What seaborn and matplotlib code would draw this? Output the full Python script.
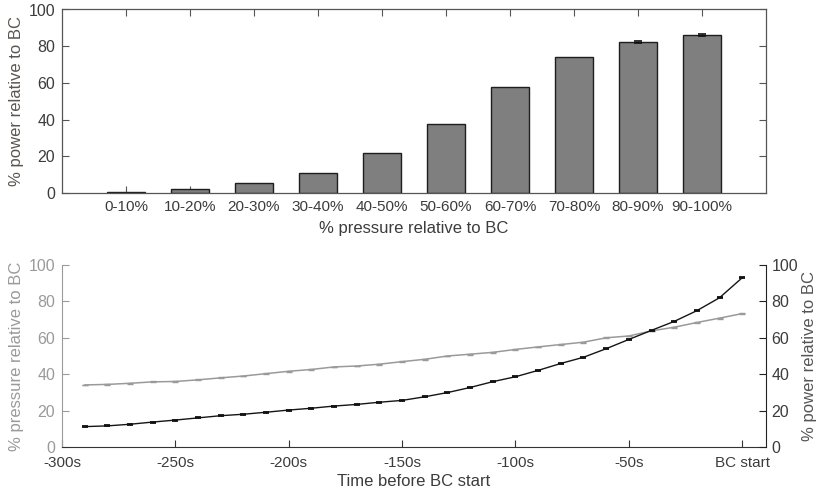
import matplotlib
matplotlib.use("Agg")
import matplotlib.pyplot as plt
import seaborn as sns
import pandas as pd
import numpy as np

# ---- data ----
bins = ["0-10%", "10-20%", "20-30%", "30-40%", "40-50%",
        "50-60%", "60-70%", "70-80%", "80-90%", "90-100%"]
power_by_bin = [0.5, 2.0, 5.3, 11.0, 22.0, 37.6, 57.5, 74.0, 82.2, 86.2]
power_by_bin_err = [0.0, 0.0, 0.0, 0.0, 0.0, 0.0, 0.0, 0.0, 0.4, 0.4]

time_s = [-290, -280, -270, -260, -250, -240, -230, -220, -210, -200,
          -190, -180, -170, -160, -150, -140, -130, -120, -110, -100,
          -90, -80, -70, -60, -50, -40, -30, -20, -10, 0]
pressure = [34.1, 34.4, 35.0, 35.8, 36.0, 36.9, 38.0, 39.0, 40.3, 41.6,
            42.6, 44.0, 44.5, 45.5, 46.9, 48.2, 50.0, 51.0, 52.0, 53.6,
            55.0, 56.3, 57.6, 60.0, 61.0, 63.8, 65.8, 68.4, 70.8, 73.3]
pressure_err = [0.2] * 30
power = [11.2, 11.6, 12.5, 13.7, 14.8, 16.0, 17.2, 18.0, 19.1, 20.3,
         21.3, 22.5, 23.4, 24.6, 25.6, 27.6, 29.9, 32.7, 35.9, 38.6,
         42.1, 45.9, 49.3, 54.0, 59.1, 64.1, 69.0, 74.9, 82.0, 93.0]
power_err = [0.3] * 30

xtick_vals = [-300, -250, -200, -150, -100, -50, 0]
xtick_labels = ["-300s", "-250s", "-200s", "-150s", "-100s", "-50s", "BC start"]
ytick_vals = [0, 20, 40, 60, 80, 100]

# ---- style ----
sns.set_style("white")
plt.rcParams["font.family"] = ["Liberation Sans", "DejaVu Sans"]
plt.rcParams["font.size"] = 12
plt.rcParams["xtick.labelsize"] = 11
plt.rcParams["ytick.labelsize"] = 11.5

dark = "#3c3c3c"
light = "#9a9a9a"

fig = plt.figure(figsize=(8.19, 4.98), dpi=100)
ax1 = fig.add_axes([62/819, 1-193/498, (766-62)/819, (193-9.5)/498])
ax2 = fig.add_axes([62/819, 1-447/498, (766-62)/819, (447-265)/498])

# ---- top: bar chart ----
df_bar = pd.DataFrame({"bin": bins, "power": power_by_bin})
sns.barplot(data=df_bar, x="bin", y="power", ax=ax1, color="#7f7f7f",
            saturation=1, width=0.6, edgecolor="#1e1e1e", linewidth=1.0,
            errorbar=None)
idx = [i for i, e in enumerate(power_by_bin_err) if e > 0]
ax1.errorbar(idx, [power_by_bin[i] for i in idx],
             yerr=[power_by_bin_err[i] for i in idx],
             fmt="none", ecolor="#111111", elinewidth=1, capsize=3, capthick=1.2)
ax1.set_xlim(-1, 10)
ax1.set_ylim(0, 100)
ax1.set_yticks(ytick_vals)
ax1.set_xlabel("% pressure relative to BC", color=dark, labelpad=5)
ax1.set_ylabel("% power relative to BC", color="#5a5550", labelpad=3)
ax1.tick_params(axis="both", direction="in", length=5, width=0.8,
                colors="#555555", labelcolor=dark, top=True, right=True,
                bottom=True, left=True, pad=5)
for s in ax1.spines.values():
    s.set_color("#555555")
    s.set_linewidth(0.9)

# ---- bottom: time series ----
df_line = pd.DataFrame({"time": time_s, "pressure": pressure, "power": power})
sns.lineplot(data=df_line, x="time", y="pressure", ax=ax2, color=light,
             linewidth=1.1)
ax2.errorbar(time_s, pressure, yerr=pressure_err, fmt="none", ecolor=light,
             elinewidth=0.8, capsize=2, capthick=1.0)
ax2.set_xlim(-300, 10.5)
ax2.set_ylim(0, 100)
ax2.set_yticks(ytick_vals)
ax2.set_xticks(xtick_vals)
ax2.set_xticklabels(xtick_labels)
ax2.set_xlabel("Time before BC start", color=dark, labelpad=3)
ax2.set_ylabel("% pressure relative to BC", color=light, labelpad=3)
ax2.tick_params(axis="y", direction="in", length=5, width=0.8,
                colors=light, labelcolor=light, left=True, pad=5)
ax2.tick_params(axis="x", direction="in", length=5, width=0.8,
                colors="#333333", labelcolor=dark, bottom=True, pad=6.5)
ax2.spines["top"].set_visible(False)
ax2.spines["right"].set_visible(False)
ax2.spines["left"].set_color(light)
ax2.spines["bottom"].set_color("#333333")

ax3 = ax2.twinx()
sns.lineplot(data=df_line, x="time", y="power", ax=ax3, color="#151515",
             linewidth=1.0)
ax3.errorbar(time_s, power, yerr=power_err, fmt="none", ecolor="#111111",
             elinewidth=0.8, capsize=2, capthick=1.3)
ax3.set_ylim(0, 100)
ax3.set_yticks(ytick_vals)
ax3.set_xlim(-300, 10.5)
ax3.set_ylabel("% power relative to BC", color="#555555", labelpad=3)
ax3.tick_params(axis="y", direction="in", length=5, width=0.8,
                colors="#222222", labelcolor=dark, right=True, pad=4)
for k in ["top", "left", "bottom"]:
    ax3.spines[k].set_visible(False)
ax3.spines["right"].set_color("#222222")

fig.savefig("out.png", dpi=100)
